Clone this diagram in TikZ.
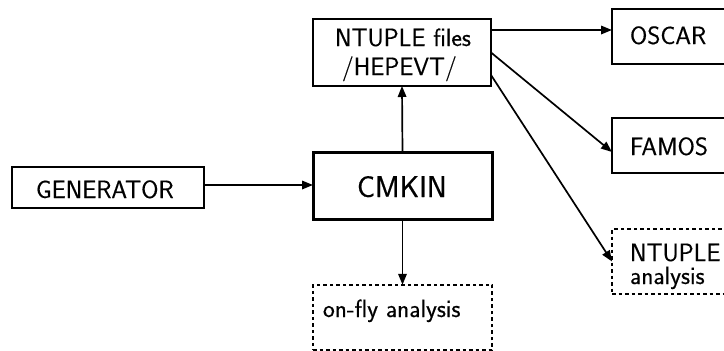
\documentclass[tikz,border=0pt]{standalone}
\usepackage{fontspec}
\newfontfamily\diagsf{Latin Modern Sans}[FakeBold=0.5]
\usetikzlibrary{arrows.meta}
\begin{document}
\begin{tikzpicture}[x=1pt,y=-1pt,
  box/.style={draw,line width=1.8pt,inner sep=0pt,outer sep=0pt},
  dbox/.style={box,dash pattern=on 3.5pt off 3pt},
  txt/.style={inner sep=0pt,outer sep=0pt,anchor=base west,font=\fontsize{25}{29}\diagsf},
  arr/.style={line width=1.7pt,-{Triangle[length=11pt,width=8.5pt]}}]
\clip (0,0) rectangle (724,351);
\fill[white] (0,0) rectangle (724,351);
% boxes
\node[box,minimum width=178pt,minimum height=67pt] (ntf) at (402,52.5) {};
\node[box,line width=3pt,minimum width=179pt,minimum height=67pt] (cmkin) at (402.5,185.5) {};
\node[box,minimum width=192pt,minimum height=41pt] (gen) at (108,187.5) {};
\node[dbox,minimum width=179pt,minimum height=65pt] (onfly) at (402.5,317.3) {};
\node[box,minimum width=188pt,minimum height=55pt] (oscar) at (706,36.5) {};
\node[box,minimum width=188pt,minimum height=55pt] (famos) at (706,145.5) {};
\node[dbox,minimum width=188pt,minimum height=65pt] (ntan) at (706,261.5) {};
% texts
\node[txt] (t1) at (335,46) {NTUPLE files};
\node[txt] (t2) at (342,75) {/HEPEVT/};
\node[txt,font=\fontsize{30}{34}\diagsf] (t3) at (357,197) {CMKIN};
\node[txt] (t4) at (36,198) {GENERATOR};
\node[txt] (t5) at (323,317) {on-fly analysis};
\node[txt] (t6) at (630,44) {OSCAR};
\node[txt] (t7) at (630,155) {FAMOS};
\node[txt] (t8) at (630,261) {NTUPLE};
\node[txt] (t9) at (630,284) {analysis};
% connectors
\coordinate (g1) at ([yshift=2.5pt]gen.east);
\draw[arr] (g1) -- (g1 -| cmkin.west);
\draw[arr] (cmkin.north) -- (ntf.south);
\draw[arr] (cmkin.south) -- (onfly.north);
\coordinate (o1) at ([yshift=-11pt]ntf.north east);
\draw[arr] (o1) -- (o1 -| oscar.west);
\draw[arr] (ntf.east) -- ([yshift=-6.5pt]famos.west);
\draw[arr] ([yshift=-22.5pt]ntf.east) -- (ntan.west);
\end{tikzpicture}
\end{document}
